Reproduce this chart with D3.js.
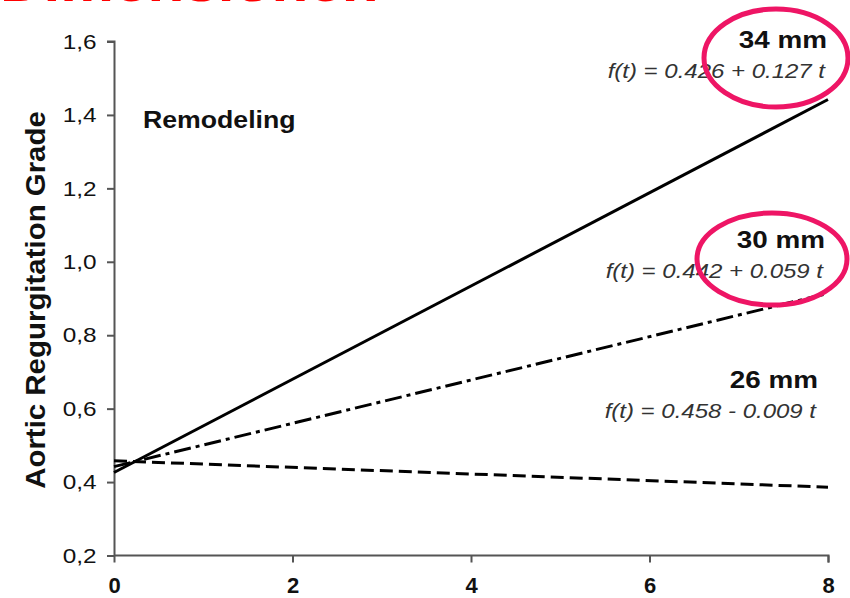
<!DOCTYPE html>
<html>
<head>
<meta charset="utf-8">
<script src="https://cdn.jsdelivr.net/npm/d3@7"></script>
<style>
  body { margin: 0; background: #fff; }
  text { font-family: "Liberation Sans", Arial, sans-serif; }
</style>
</head>
<body>
<div id="chart"></div>
<script>
// values
const years = [0, 8];
const grade34 = [0.426, 1.442];
const grade30 = [0.442, 0.914];
const grade26 = [0.458, 0.386];
const sizes = ['34 mm', '30 mm', '26 mm'];
const formulas = ['f(t) = 0.426 + 0.127 t', 'f(t) = 0.442 + 0.059 t', 'f(t) = 0.458 - 0.009 t'];
const xTicks = [0, 2, 4, 6, 8];
const yTicks = [0.2, 0.4, 0.6, 0.8, 1.0, 1.2, 1.4, 1.6];

const margin = { top: 41.5, right: 22, bottom: 42.5, left: 114 },
      width = 850 - margin.left - margin.right,
      height = 598 - margin.top - margin.bottom;

const stretch = 1.16; // text in the source image is a bit wide

let root = d3.select('#chart')
  .append('svg')
    .style('display', 'block')
    .attr('width', 850)
    .attr('height', 598);

// title of the slide, mostly cut off at the top
root.append('text')
  .attr('transform', 'translate(0,1) scale(' + stretch + ',1)')
  .attr('fill', '#ff0000')
  .attr('font-weight', 'bold')
  .attr('font-size', 52)
  .text('Dimensionen');

let svg = root.append('g')
  .attr('transform', 'translate(' + margin.left + ',' + margin.top + ')');

let x = d3.scaleLinear().domain([0, 8]).range([0, width]);
let y = d3.scaleLinear().domain([0.2, 1.6]).range([height, 0]);

let xAxis = svg.append('g')
  .attr('transform', 'translate(0,' + height + ')')
  .call(d3.axisBottom(x).tickValues(xTicks).tickSize(7).tickPadding(15).tickFormat(d3.format('d')));
xAxis.selectAll('text')
  .attr('font-size', 22)
  .attr('font-weight', 'bold')
  .attr('fill', '#111');

let yAxis = svg.append('g')
  .call(d3.axisLeft(y).tickValues(yTicks).tickSize(7).tickPadding(8)
    .tickFormat((d) => d3.format('.1f')(d).replace('.', ',')));
yAxis.selectAll('text')
  .attr('font-size', 21)
  .attr('fill', '#111')
  .attr('transform', 'scale(' + stretch + ',1)');

svg.selectAll('.domain, .tick line')
  .attr('stroke', '#555')
  .attr('stroke-width', 2);
xAxis.select('.domain').attr('d', 'M0.5,0H' + width + '.5V7');
yAxis.select('.domain').attr('d', 'M-7,' + y(1.6) + 'H0.5V' + height + '.5');

root.append('text')
  .attr('transform', 'translate(45,300) rotate(-90) scale(1.09,1)')
  .attr('text-anchor', 'middle')
  .attr('font-weight', 'bold')
  .attr('font-size', 27)
  .attr('fill', '#111')
  .text('Aortic Regurgitation Grade');

root.append('text')
  .attr('transform', 'translate(143,128) scale(' + stretch + ',1)')
  .attr('font-weight', 'bold')
  .attr('font-size', 23)
  .attr('fill', '#111')
  .text('Remodeling');

// regression lines
const series = [grade34, grade30, grade26];
const dashes = [null, '17,5,4,5', '13,6'];
let line = d3.line()
  .x((d, i) => x(years[i]))
  .y((d) => y(d));

svg.selectAll('path.fit')
  .data(series)
  .enter()
  .append('path')
    .attr('class', 'fit')
    .attr('fill', 'none')
    .attr('stroke', '#000')
    .attr('stroke-width', 3)
    .attr('stroke-dasharray', (d, i) => dashes[i])
    .attr('d', line);

// labels on the right
const labelY = [48, 248, 388];
const labelX = [827, 825, 818];
sizes.forEach((s, i) => {
  root.append('text')
    .attr('transform', 'translate(' + labelX[i] + ',' + labelY[i] + ') scale(' + stretch + ',1)')
    .attr('text-anchor', 'end')
    .attr('font-weight', 'bold')
    .attr('font-size', 24)
    .attr('fill', '#111')
    .text(s);
  root.append('text')
    .attr('transform', 'translate(' + (labelX[i] - 2) + ',' + (labelY[i] + 30) + ') scale(1.2,1)')
    .attr('text-anchor', 'end')
    .attr('font-style', 'italic')
    .attr('font-size', 20)
    .attr('fill', '#333')
    .text(formulas[i]);
});

// pink circles drawn on the slide
root.append('ellipse')
  .attr('cx', 776).attr('cy', 58).attr('rx', 72).attr('ry', 49)
  .attr('fill', 'none').attr('stroke', '#ee1565').attr('stroke-width', 5);
root.append('ellipse')
  .attr('cx', 772).attr('cy', 259).attr('rx', 75).attr('ry', 46)
  .attr('fill', 'none').attr('stroke', '#ee1565').attr('stroke-width', 5);
</script>
</body>
</html>
